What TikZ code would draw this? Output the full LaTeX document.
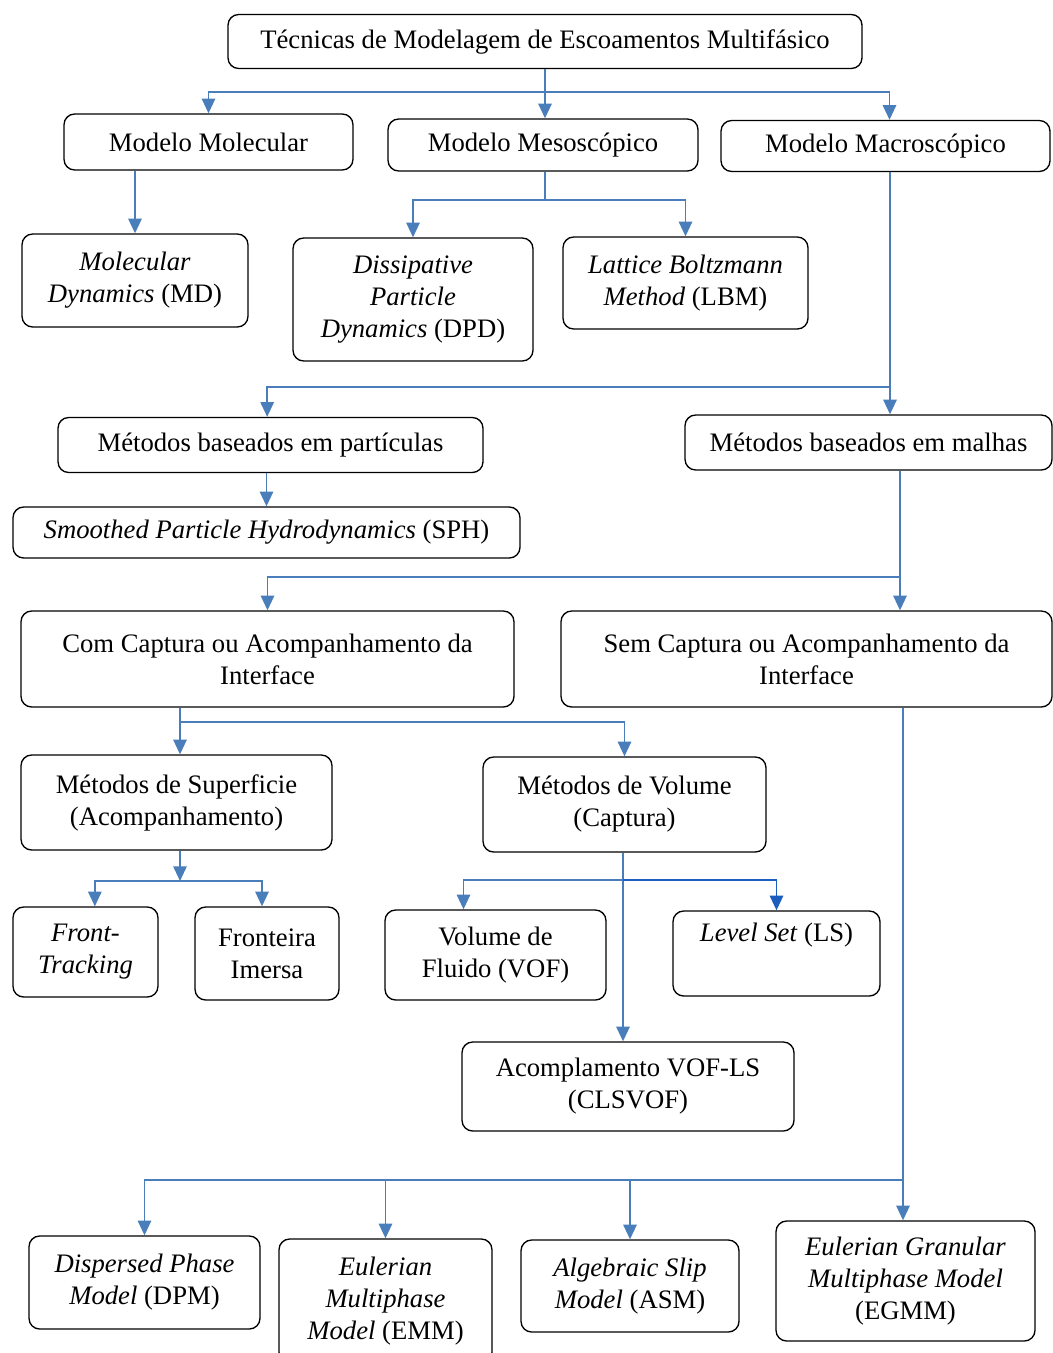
\documentclass[tikz,border=0pt]{standalone}
\usepackage{fontspec}
\setmainfont{Liberation Serif}
\usetikzlibrary{arrows.meta}
\definecolor{azul}{RGB}{74,126,187}
\definecolor{azulesc}{RGB}{28,94,190}

\begin{document}
\begin{tikzpicture}[x=0.75pt, y=-0.75pt,
        bloco/.style={draw, line width=1pt, rounded corners=8pt, align=center, inner sep=0pt,
          font=\fontsize{20}{24}\selectfont},
        liga/.style={draw=azul, line width=1.3pt, -{Triangle[length=11pt,width=10pt]}},
        linha/.style={draw=azul, line width=1.3pt}]
        \useasboundingbox (0,0) rectangle (1053,1353);

        \node[bloco, minimum width=475.5pt, minimum height=40.5pt] (TM) at (545,41.5) {Técnicas de Modelagem de Escoamentos Multifásico};
        \node[bloco, minimum width=216.75pt, minimum height=42pt] (MM) at (208.5,142) {Modelo Molecular};
        \node[bloco, minimum width=232.5pt, minimum height=39pt] (MMe) at (543,145) {Modelo Mesoscópico};
        \node[bloco, minimum width=246.75pt, minimum height=38.25pt] (MMa) at (885.5,146) {Modelo Macroscópico};
        \node[bloco, minimum width=169.5pt, minimum height=69.75pt] (MD) at (135,280.5) {\textit{Molecular}\\\textit{Dynamics} (MD)};
        \node[bloco, minimum width=180pt, minimum height=92.25pt] (DPD) at (413,299.5) {\textit{Dissipative}\\\textit{Particle}\\\textit{Dynamics} (DPD)};
        \node[bloco, minimum width=183.75pt, minimum height=69pt] (LBM) at (685.5,283) {\textit{Lattice Boltzmann}\\\textit{Method} (LBM)};
        \node[bloco, minimum width=318.75pt, minimum height=41.25pt] (MP) at (270.5,445) {Métodos baseados em partículas};
        \node[bloco, minimum width=275.25pt, minimum height=41.25pt] (MBM) at (868.5,442.5) {Métodos baseados em malhas};
        \node[bloco, minimum width=380.25pt, minimum height=38.25pt] (SPH) at (266.5,532.5) {\textit{Smoothed Particle Hydrodynamics} (SPH)};
        \node[bloco, minimum width=369.75pt, minimum height=72pt] (CC) at (267.5,659) {Com Captura ou Acompanhamento da\\Interface};
        \node[bloco, minimum width=368.25pt, minimum height=72pt] (SC) at (806.5,659) {Sem Captura ou Acompanhamento da\\Interface};
        \node[bloco, minimum width=233.25pt, minimum height=71.25pt] (MS) at (176.5,802.5) {Métodos de Superficie\\(Acompanhamento)};
        \node[bloco, minimum width=212.25pt, minimum height=71.25pt] (MV) at (624.5,804.5) {Métodos de Volume\\(Captura)};
        \node[bloco, minimum width=108.75pt, minimum height=67.5pt] (FT) at (85.5,952) {\textit{Front-}\\\textit{Tracking}};
        \node[bloco, minimum width=108pt, minimum height=69.75pt] (FI) at (267,953.5) {Fronteira\\Imersa};
        \node[bloco, minimum width=165.75pt, minimum height=67.5pt] (VOF) at (495.5,955) {Volume de\\Fluido (VOF)};
        \node[bloco, minimum width=155.25pt, minimum height=63.75pt] (LS) at (776.5,953.5) {\textit{Level Set} (LS)\\\strut};
        \node[bloco, minimum width=249pt, minimum height=66.75pt] (CLSVOF) at (628,1086.5) {Acomplamento VOF-LS\\(CLSVOF)};
        \node[bloco, minimum width=173.25pt, minimum height=69.75pt] (DPM) at (144.5,1282.5) {\textit{Dispersed Phase}\\\textit{Model} (DPM)};
        \node[bloco, minimum width=159.75pt, minimum height=93pt] (EMM) at (385.5,1301) {\textit{Eulerian}\\\textit{Multiphase}\\\textit{Model} (EMM)};
        \node[bloco, minimum width=163.5pt, minimum height=69pt] (ASM) at (630,1286) {\textit{Algebraic Slip}\\\textit{Model} (ASM)};
        \node[bloco, minimum width=194.25pt, minimum height=90pt] (EGMM) at (905.5,1281) {\textit{Eulerian Granular}\\\textit{Multiphase Model}\\(EGMM)};

        \coordinate (jTM) at (545,92);
        \coordinate (jMMe) at (545,200);
        \coordinate (jMMa) at (890,387);
        \coordinate (jMBM) at (900,577);
        \coordinate (jCC) at (180,722);
        \coordinate (jMS) at (180,881);
        \coordinate (jMV) at (623,880);
        \coordinate (jSC) at (903,1180);

        \draw[liga] (TM.south -| jTM) to (jTM |- MMe.north);
        \draw[liga] (jTM) -| (MM.north);
        \draw[liga] (jTM) -| ([xshift=3pt]MMa.north);

        \draw[liga] (MD.north |- MM.south) to (MD.north);
        \draw[linha] (MMe.south -| jMMe) to (jMMe);
        \draw[liga] (jMMe) -| (DPD.north);
        \draw[liga] (jMMe) -| (LBM.north);

        \draw[linha] (MMa.south -| jMMa) to (jMMa);
        \draw[liga] (jMMa) to (jMMa |- MBM.north);
        \draw[liga] (jMMa) -| ([xshift=-2.5pt]MP.north);
        \draw[liga] (SPH.north |- MP.south) to (SPH.north);

        \draw[linha] (MBM.south -| jMBM) to (jMBM);
        \draw[liga] (jMBM) to (jMBM |- SC.north);
        \draw[liga] (jMBM) -| (CC.north);

        \draw[liga] (CC.south -| jCC) to (jCC |- MS.north);
        \draw[liga] (jCC) -| (MV.north);
        \draw[liga] (MS.south -| jMS) to (jMS);
        \draw[liga] (jMS) -| ([xshift=7pt]FT.north);
        \draw[liga] (jMS) -| ([xshift=-3.75pt]FI.north);

        \draw[liga] (MV.south -| jMV) to (jMV |- CLSVOF.north);
        \draw[liga] (jMV) -| ([xshift=-24pt]VOF.north);
        \draw[liga, draw=azulesc] (jMV) -| (LS.north);

        \draw[liga] (SC.south -| jSC) to (jSC |- EGMM.north);
        \draw[liga] (jSC) -| (ASM.north);
        \draw[liga] (jSC) -| (EMM.north);
        \draw[liga] (jSC) -| (DPM.north);
      \end{tikzpicture}
\end{document}
